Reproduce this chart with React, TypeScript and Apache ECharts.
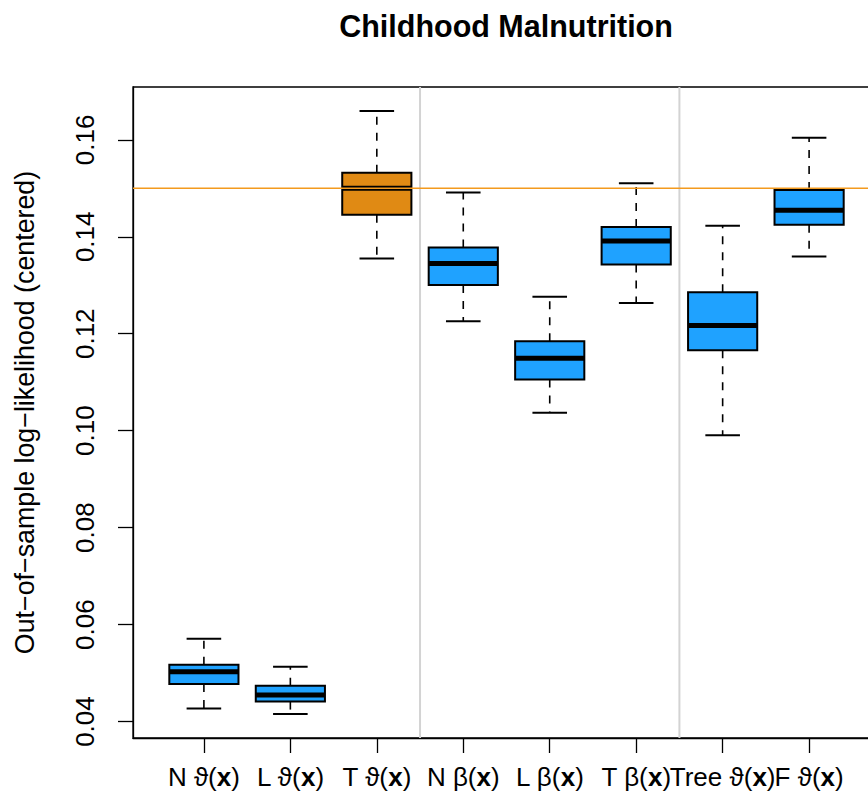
import React, { useEffect, useRef } from "react";
import * as echarts from "echarts";

const models = ["N ϑ", "L ϑ", "T ϑ", "N β", "L β", "T β", "Tree ϑ", "F ϑ"];
const lowerWhisker = [0.04267, 0.04158, 0.13553, 0.12257, 0.10372, 0.12636, 0.09905, 0.13595];
const q1 = [0.04776, 0.04412, 0.14453, 0.13006, 0.11058, 0.1343, 0.11661, 0.14247];
const median = [0.05029, 0.04549, 0.15, 0.13451, 0.11496, 0.13912, 0.12169, 0.14549];
const q3 = [0.05173, 0.04741, 0.15323, 0.1378, 0.11846, 0.142, 0.12854, 0.14967];
const upperWhisker = [0.05708, 0.05132, 0.16593, 0.14912, 0.12765, 0.15105, 0.14226, 0.16043];
const yTicks = [0.04, 0.06, 0.08, 0.1, 0.12, 0.14, 0.16];
const xTicksOdd = [1, 3, 5, 7];
const xTicksEven = [2, 4, 6, 8];
const referenceLevel = 0.15;
const separators = [3.5, 6.5];
const highlightIndex = 2;

const X_MIN = 0.18;
const X_MAX = 8.82;
const Y_MIN = 0.03661;
const Y_MAX = 0.1709;

const FONT = "'Liberation Sans', Arial, Helvetica, sans-serif";
const BLUE = "#1FA2FF";
const ORANGE = "#E08A14";

function makeXAxis(ticks: number[], showLine: boolean) {
  return {
    type: "value",
    position: "bottom",
    offset: 0,
    min: X_MIN,
    max: X_MAX,
    splitLine: { show: false },
    axisLine: { show: showLine, onZero: false, lineStyle: { color: "#000", width: 1.3 } },
    axisTick: { show: true, length: 15, customValues: ticks, lineStyle: { color: "#000", width: 1.3 } },
    axisLabel: {
      customValues: ticks,
      showMinLabel: true,
      showMaxLabel: true,
      margin: 26,
      fontFamily: FONT,
      fontSize: 26,
      color: "#000",
      formatter: (v: number) => `${models[Math.round(v) - 1]}({b|x})`,
      rich: { b: { fontFamily: FONT, fontSize: 26, fontWeight: "bold", color: "#000" } },
    },
  };
}

export default function App() {
  const ref = useRef<HTMLDivElement>(null);
  useEffect(() => {
    if (!ref.current) return;
    const chart = echarts.init(ref.current, undefined, { renderer: "svg" });
    const boxData = models.map((_, i) => [
      i + 1,
      lowerWhisker[i],
      q1[i],
      median[i],
      q3[i],
      upperWhisker[i],
    ]);
    const option: any = {
      animation: false,
      backgroundColor: "#fff",
      title: {
        text: "Childhood Malnutrition",
        left: 501,
        top: 5,
        textAlign: "center",
        textStyle: { fontFamily: FONT, fontWeight: "bold", fontSize: 30.5, color: "#000" },
      },
      grid: { left: 133, top: 87, width: 747, height: 651, show: true, borderColor: "#000", borderWidth: 1.3, backgroundColor: "transparent" },
      xAxis: [makeXAxis(xTicksOdd, true), makeXAxis(xTicksEven, false)],
      yAxis: {
        type: "value",
        min: Y_MIN,
        max: Y_MAX,
        name: "Out−of−sample log−likelihood (centered)",
        nameLocation: "middle",
        nameGap: 95,
        nameRotate: 90,
        nameTextStyle: { fontFamily: FONT, fontSize: 26.8, color: "#000" },
        splitLine: { show: false },
        axisLine: { show: true, onZero: false, lineStyle: { color: "#000", width: 1.3 } },
        axisTick: { show: true, length: 15, customValues: yTicks, lineStyle: { color: "#000", width: 1.3 } },
        axisLabel: {
          customValues: yTicks,
          showMinLabel: true,
          showMaxLabel: true,
          rotate: 90,
          margin: 35,
          fontFamily: FONT,
          fontSize: 26,
          color: "#000",
          formatter: (v: number) => v.toFixed(2),
        },
      },
      series: [
        ...separators.map((s) => ({
          type: "line",
          xAxisIndex: 0,
          data: [[s, Y_MIN], [s, Y_MAX]],
          symbol: "none",
          silent: true,
          z: 1,
          lineStyle: { color: "#D3D3D3", width: 2 },
        })),
        {
          type: "custom",
          xAxisIndex: 0,
          z: 3,
          data: boxData,
          encode: { x: 0, y: [1, 2, 3, 4, 5] },
          renderItem: (params: any, api: any) => {
            const x = api.value(0);
            const lo = api.coord([x, api.value(1)]);
            const p1 = api.coord([x, api.value(2)]);
            const pm = api.coord([x, api.value(3)]);
            const p3 = api.coord([x, api.value(4)]);
            const hi = api.coord([x, api.value(5)]);
            const boxW = api.size([0.8, 0])[0];
            const capW = boxW / 2;
            const cx = lo[0];
            const fill = params.dataIndex === highlightIndex ? ORANGE : BLUE;
            const dash = { stroke: "#000", lineWidth: 1.6, lineDash: [8, 8] };
            const solid = { stroke: "#000", lineWidth: 2 };
            return {
              type: "group",
              children: [
                { type: "line", shape: { x1: cx, y1: p3[1], x2: cx, y2: hi[1] }, style: dash },
                { type: "line", shape: { x1: cx, y1: p1[1], x2: cx, y2: lo[1] }, style: dash },
                { type: "line", shape: { x1: cx - capW / 2, y1: hi[1], x2: cx + capW / 2, y2: hi[1] }, style: solid },
                { type: "line", shape: { x1: cx - capW / 2, y1: lo[1], x2: cx + capW / 2, y2: lo[1] }, style: solid },
                {
                  type: "rect",
                  shape: { x: cx - boxW / 2, y: p3[1], width: boxW, height: p1[1] - p3[1] },
                  style: { fill, stroke: "#000", lineWidth: 2 },
                },
                { type: "line", shape: { x1: cx - boxW / 2, y1: pm[1], x2: cx + boxW / 2, y2: pm[1] }, style: { stroke: "#000", lineWidth: 5 } },
              ],
            };
          },
        },
        {
          type: "line",
          xAxisIndex: 0,
          data: [[X_MIN, referenceLevel], [X_MAX, referenceLevel]],
          symbol: "none",
          silent: true,
          z: 5,
          lineStyle: { color: "#F39A1E", width: 1.6 },
        },
      ],
    };
    chart.setOption(option);
    return () => chart.dispose();
  }, []);
  return <div ref={ref} style={{ position: "fixed", left: 0, top: 0, width: 900, height: 799 }} />;
}
